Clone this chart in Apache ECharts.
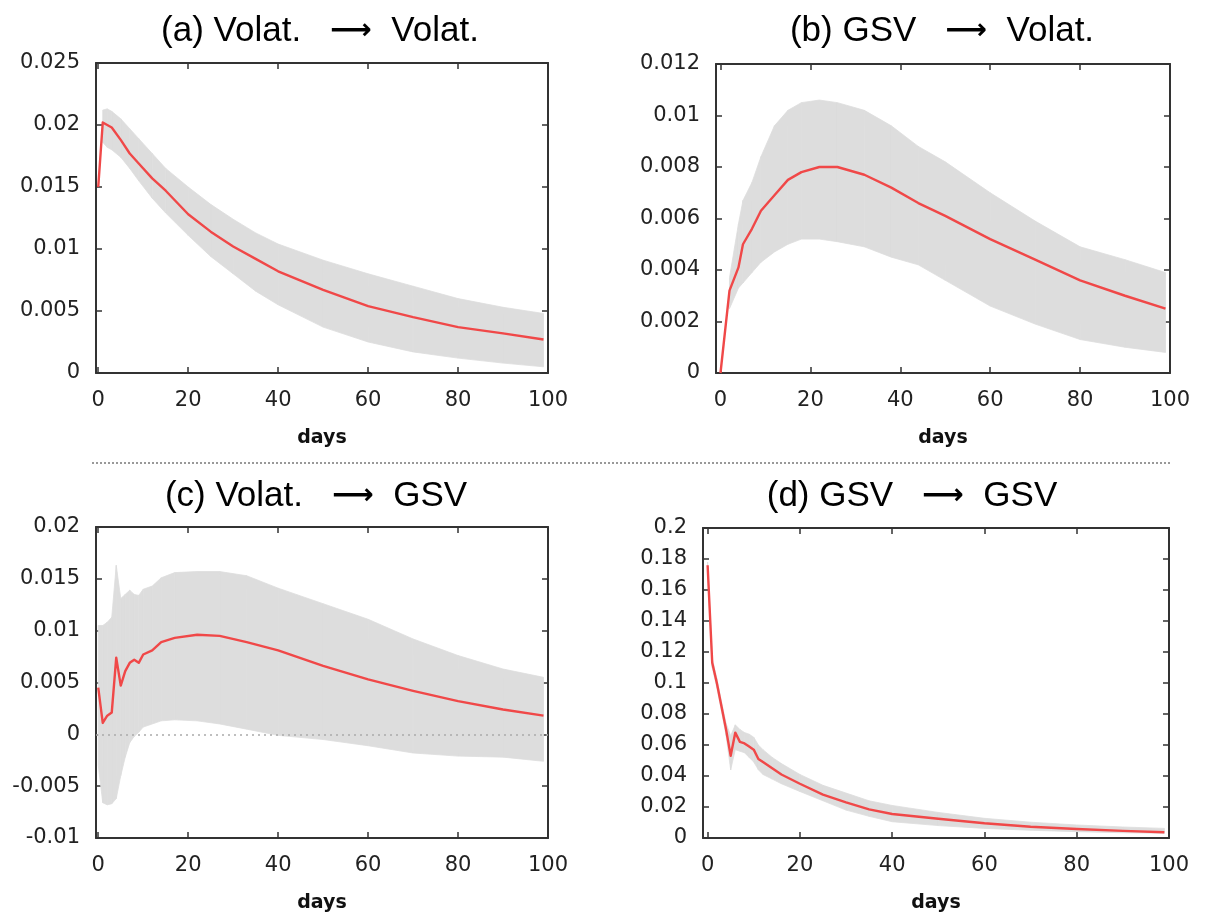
<!DOCTYPE html>
<html>
<head>
<meta charset="utf-8">
<script src="https://cdn.jsdelivr.net/npm/echarts@6/dist/echarts.min.js"></script>
<style>
  html, body { margin: 0; background: #fff; }
  #main { width: 1206px; height: 917px; }
</style>
</head>
<body>
<div id="main"></div>
<script>
// tick positions on the days axis
const xTicks = [0, 20, 40, 60, 80, 100];

// (a) Volat. -> Volat.
const daysA  = [0, 1, 2, 3, 5, 7, 9, 12, 15, 20, 25, 30, 35, 40, 50, 60, 70, 80, 90, 99];
const lineA  = [0.0150, 0.0202, 0.0200, 0.0198, 0.0188, 0.0177, 0.0169, 0.0157, 0.0147, 0.0128, 0.0114, 0.0102, 0.0092, 0.0082, 0.0067, 0.0054, 0.0045, 0.0037, 0.0032, 0.0027];
const upperA = [null, 0.0212, 0.0213, 0.0211, 0.0205, 0.0197, 0.0189, 0.0177, 0.0165, 0.0150, 0.0136, 0.0124, 0.0113, 0.0104, 0.0091, 0.0080, 0.0070, 0.0060, 0.0053, 0.0048];
const lowerA = [null, 0.0186, 0.0182, 0.0180, 0.0174, 0.0165, 0.0155, 0.0141, 0.0129, 0.0111, 0.0094, 0.0080, 0.0066, 0.0055, 0.0037, 0.0025, 0.0017, 0.0012, 0.0008, 0.0005];

// (b) GSV -> Volat.
const daysB  = [0, 2, 4, 5, 7, 9, 12, 15, 18, 22, 26, 32, 38, 44, 50, 60, 70, 80, 90, 99];
const lineB  = [0.0000, 0.0032, 0.0041, 0.0050, 0.0056, 0.0063, 0.0069, 0.0075, 0.0078, 0.0080, 0.0080, 0.0077, 0.0072, 0.0066, 0.0061, 0.0052, 0.0044, 0.0036, 0.0030, 0.0025];
const upperB = [null, 0.0037, 0.0058, 0.0067, 0.0074, 0.0084, 0.0096, 0.0102, 0.0105, 0.0106, 0.0105, 0.0102, 0.0096, 0.0088, 0.0082, 0.0070, 0.0059, 0.0049, 0.0044, 0.0039];
const lowerB = [null, 0.0025, 0.0033, 0.0035, 0.0039, 0.0043, 0.0047, 0.0050, 0.0052, 0.0052, 0.0051, 0.0049, 0.0045, 0.0042, 0.0036, 0.0026, 0.0019, 0.0013, 0.0010, 0.0008];

// (c) Volat. -> GSV
const daysC  = [0, 1, 2, 3, 4, 5, 6, 7, 8, 9, 10, 12, 14, 17, 22, 27, 33, 40, 50, 60, 70, 80, 90, 99];
const lineC  = [0.0045, 0.0011, 0.0018, 0.0021, 0.0074, 0.0047, 0.0061, 0.0069, 0.0072, 0.0069, 0.0077, 0.0081, 0.0089, 0.0093, 0.0096, 0.0095, 0.0089, 0.0081, 0.0066, 0.0053, 0.0042, 0.0032, 0.0024, 0.0018];
const upperC = [0.0105, 0.0105, 0.0108, 0.0113, 0.0163, 0.0131, 0.0135, 0.0139, 0.0135, 0.0134, 0.0140, 0.0143, 0.0151, 0.0156, 0.0157, 0.0157, 0.0153, 0.0141, 0.0126, 0.0111, 0.0092, 0.0076, 0.0063, 0.0055];
const lowerC = [-0.0030, -0.0066, -0.0068, -0.0067, -0.0062, -0.0040, -0.0022, -0.0008, -0.0002, 0.0002, 0.0007, 0.0010, 0.0013, 0.0014, 0.0013, 0.0010, 0.0005, -0.0001, -0.0005, -0.0011, -0.0018, -0.0021, -0.0022, -0.0026];

// (d) GSV -> GSV
const daysD  = [0, 1, 2, 3, 4, 5, 6, 7, 8, 9, 10, 11, 12, 14, 16, 20, 25, 30, 35, 40, 50, 60, 70, 80, 90, 99];
const lineD  = [0.176, 0.113, 0.100, 0.085, 0.070, 0.053, 0.068, 0.062, 0.061, 0.059, 0.057, 0.051, 0.049, 0.045, 0.041, 0.035, 0.028, 0.023, 0.0185, 0.0155, 0.0124, 0.0095, 0.0073, 0.0058, 0.0046, 0.0037];
const upperD = [0.178, 0.116, 0.103, 0.088, 0.074, 0.066, 0.073, 0.070, 0.068, 0.067, 0.065, 0.060, 0.057, 0.052, 0.048, 0.041, 0.034, 0.029, 0.024, 0.021, 0.0165, 0.0127, 0.0102, 0.0084, 0.0071, 0.0062];
const lowerD = [0.174, 0.110, 0.097, 0.082, 0.066, 0.044, 0.057, 0.056, 0.055, 0.052, 0.049, 0.044, 0.041, 0.038, 0.035, 0.030, 0.024, 0.018, 0.014, 0.0105, 0.0080, 0.0062, 0.0050, 0.0041, 0.0034, 0.0030];

const titles = [
  ['(a) Volat.', 'Volat.'], ['(b) GSV', 'Volat.'], ['(c) Volat.', 'GSV'], ['(d) GSV', 'GSV']
];

var chart = echarts.init(document.getElementById('main'));

const font = 'DejaVu Sans';
const dark = '#333';

// one entry per panel: grid box, axis ranges, data
const panels = [
  {grid: {left: 96, top: 63, width: 452, height: 310}, xmin: -0.5, ymin: 0, ymax: 0.025, step: 0.005,
   days: daysA, line: lineA, upper: upperA, lower: lowerA, titleX: 320, titleY: 31},
  {grid: {left: 716, top: 64, width: 454, height: 309}, xmin: -1, ymin: 0, ymax: 0.012, step: 0.002,
   days: daysB, line: lineB, upper: upperB, lower: lowerB, titleX: 942, titleY: 31},
  {grid: {left: 96, top: 527, width: 452, height: 311}, xmin: -0.5, ymin: -0.01, ymax: 0.02, step: 0.005,
   days: daysC, line: lineC, upper: upperC, lower: lowerC, titleX: 316, titleY: 496, zero: true},
  {grid: {left: 703, top: 528, width: 466, height: 310}, xmin: -1, ymin: 0, ymax: 0.2, step: 0.02,
   days: daysD, line: lineD, upper: upperD, lower: lowerD, titleX: 912, titleY: 496}
];

let grids = [], xAxes = [], yAxes = [], series = [], graphics = [];
let lineStyle = {color: dark, width: 2};
let tick = {show: true, inside: true, length: 6, lineStyle: {color: dark, width: 1.5}};

panels.forEach(function (p, i) {
  grids.push(p.grid);
  xAxes.push({
    type: 'value', gridIndex: i, min: p.xmin, max: 100, position: 'bottom',
    axisLine: {show: true, onZero: false, lineStyle: lineStyle},
    axisTick: Object.assign({customValues: xTicks}, tick),
    axisLabel: {customValues: xTicks, margin: 17, fontSize: 21, fontFamily: font, color: '#222'},
    splitLine: {show: false},
    name: 'days', nameLocation: 'middle', nameGap: 56,
    nameTextStyle: {fontWeight: 'bold', fontSize: 19, fontFamily: font, color: '#111'}
  });
  yAxes.push({
    type: 'value', gridIndex: i, min: p.ymin, max: p.ymax, interval: p.step, position: 'left',
    axisLine: {show: true, onZero: false, lineStyle: lineStyle},
    axisTick: tick,
    axisLabel: {margin: 16, fontSize: 21, fontFamily: font, color: '#222',
      formatter: v => String(parseFloat(v.toFixed(4)))},
    splitLine: {show: false}
  });
  graphics.push({
    type: 'text', x: p.titleX, y: p.titleY,
    style: {
      text: '{t|' + titles[i][0] + '   }{r|\u27F6}{t|  ' + titles[i][1] + '}',
      rich: {
        t: {font: '35px "Liberation Sans", Arial, sans-serif', fill: '#000'},
        r: {font: 'bold 29px "DejaVu Sans", sans-serif', fill: '#000'}
      },
      textAlign: 'center', textVerticalAlign: 'middle'
    }
  });
});

// mirrored top / right axes (ticks only)
panels.forEach(function (p, i) {
  xAxes.push({
    type: 'value', gridIndex: i, min: p.xmin, max: 100, position: 'top',
    axisLine: {show: true, onZero: false, lineStyle: lineStyle},
    axisTick: Object.assign({customValues: xTicks}, tick),
    axisLabel: {show: false}, splitLine: {show: false}
  });
  yAxes.push({
    type: 'value', gridIndex: i, min: p.ymin, max: p.ymax, interval: p.step, position: 'right',
    axisLine: {show: true, onZero: false, lineStyle: lineStyle},
    axisTick: tick, axisLabel: {show: false}, splitLine: {show: false}
  });
});

// confidence band: one quad between each pair of neighbouring days
function renderBand(params, api) {
  let a = api.coord([api.value(0), api.value(2)]);
  let b = api.coord([api.value(3), api.value(5)]);
  let c = api.coord([api.value(3), api.value(4)]);
  let d = api.coord([api.value(0), api.value(1)]);
  return {
    type: 'polygon',
    shape: {points: [a, b, c, d]},
    style: {fill: '#dddddd', stroke: '#dddddd', lineWidth: 0.8}
  };
}

panels.forEach(function (p, i) {
  let quads = [];
  for (let k = 0; k < p.days.length - 1; k++) {
    if (p.upper[k] == null || p.upper[k + 1] == null) continue;
    quads.push([p.days[k], p.lower[k], p.upper[k], p.days[k + 1], p.lower[k + 1], p.upper[k + 1]]);
  }
  let linePts = p.days.map((d, k) => [d, p.line[k]]);
  if (p.zero) {
    series.push({
      type: 'line', xAxisIndex: i, yAxisIndex: i, data: [], z: 1, silent: true,
      markLine: {symbol: 'none', silent: true, label: {show: false},
        lineStyle: {color: '#aaa', type: [2, 4], width: 1.5}, data: [{yAxis: 0}]}
    });
  }
  series.push({
    type: 'custom', xAxisIndex: i, yAxisIndex: i, data: quads, renderItem: renderBand,
    encode: {x: [0, 3], y: [1, 2, 4, 5]}, z: 2, silent: true
  });
  series.push({
    type: 'line', xAxisIndex: i, yAxisIndex: i, data: linePts,
    symbol: 'none', lineStyle: {color: '#f04848', width: 2.4, join: 'round'}, z: 3
  });
});

// dotted separator between the two rows
graphics.push({
  type: 'line', shape: {x1: 92, y1: 463, x2: 1172, y2: 463},
  style: {stroke: '#999', lineWidth: 2, lineDash: [2, 2]}
});

let option = {
  animation: false,
  grid: grids,
  xAxis: xAxes,
  yAxis: yAxes,
  series: series,
  graphic: graphics
};
chart.setOption(option);
</script>
</body>
</html>
